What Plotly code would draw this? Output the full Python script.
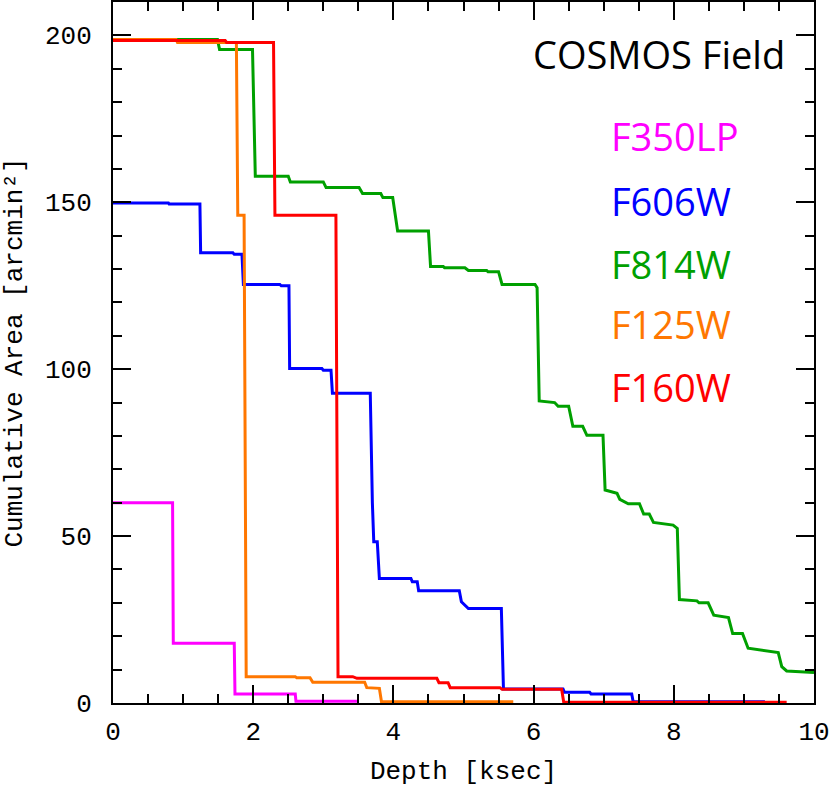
import plotly.graph_objects as go

# step curves (depth in ksec, cumulative area in arcmin^2)
f350lp_x = [0, 0.85, 0.86, 1.73, 1.74, 2.60, 2.61, 3.48]
f350lp_y = [60, 60, 17.9, 17.9, 2.7, 2.7, 0.5, 0.5]

f606w_x = [0, 0.79, 0.80, 1.24, 1.25, 1.71, 1.73, 1.84, 1.86, 2.38, 2.40, 2.51, 2.52,
           2.98, 3.00, 3.11, 3.13, 3.67, 3.70, 3.72, 3.77, 3.80, 4.25, 4.27, 4.34, 4.36,
           4.94, 4.97, 5.07, 5.54, 5.57, 6.42, 6.44, 6.80, 6.82, 7.40, 7.42, 9.3]
f606w_y = [149.8, 149.8, 149.5, 149.5, 134.9, 134.9, 134.4, 134.4, 125.4, 125.4, 125.0, 125.0, 100.2,
           100.2, 99.7, 99.7, 92.8, 92.8, 60, 48.3, 48.3, 37.3, 37.3, 36.3, 36.3, 33.6,
           33.6, 30.3, 28.3, 28.3, 4.2, 4.2, 3.2, 3.2, 2.7, 2.7, 0.4, 0.4]

f814w_x = [0, 1.49, 1.52, 1.99, 2.03, 2.50, 2.53, 3.00, 3.04, 3.51, 3.56, 3.82, 3.85, 3.99,
           4.06, 4.50, 4.53, 4.71, 4.73, 5.02, 5.07, 5.33, 5.35, 5.50, 5.55, 6.02, 6.05,
           6.08, 6.30, 6.35, 6.50, 6.56, 6.70, 6.76, 6.99, 7.02, 7.19, 7.23, 7.35, 7.51,
           7.57, 7.65, 7.71, 7.99, 8.05, 8.08, 8.33, 8.36, 8.49, 8.57, 8.78, 8.84, 8.98,
           9.06, 9.49, 9.54, 9.61, 10.0]
f814w_y = [198.8, 198.8, 195.8, 195.8, 157.8, 157.8, 156.1, 156.1, 154.4, 154.4, 152.6, 152.6, 151.4, 151.4,
           141.4, 141.4, 130.8, 130.8, 130.4, 130.4, 129.6, 129.6, 129.2, 129.2, 125.4, 125.4, 124.4,
           90.5, 90.0, 88.9, 88.9, 82.9, 82.9, 80.2, 80.2, 63.8, 62.8, 61.0, 59.7, 59.7,
           56.6, 56.6, 54.1, 53.3, 52.3, 31.0, 30.6, 30.0, 30.0, 26.3, 25.6, 20.8, 20.8,
           16.4, 15.1, 10.9, 9.6, 9.1]

f125w_x = [0, 0.90, 0.92, 1.76, 1.78, 1.87, 1.90, 2.60, 2.62, 2.81, 2.85, 3.59, 3.62, 3.80,
           3.83, 5.71]
f125w_y = [198.8, 198.8, 197.9, 197.9, 146.1, 146.1, 7.9, 7.9, 7.6, 7.6, 6.2, 6.2, 4.6, 4.4,
           0.4, 0.4]

f160w_x = [0, 1.60, 1.62, 2.29, 2.31, 3.18, 3.21, 3.42, 3.48, 4.62, 4.65, 4.78, 4.81,
           5.52, 5.55, 6.40, 6.43, 9.61]
f160w_y = [198.5, 198.5, 197.9, 197.9, 146.1, 146.1, 7.9, 7.9, 7.4, 7.4, 6.1, 6.1, 4.6,
           4.6, 4.1, 4.1, 0.2, 0.2]

filters = ["F350LP", "F606W", "F814W", "F125W", "F160W"]
colors = ["#ff00ff", "#0000ff", "#00a000", "#ff7700", "#ff0000"]
xs = [f350lp_x, f606w_x, f814w_x, f125w_x, f160w_x]
ys = [f350lp_y, f606w_y, f814w_y, f125w_y, f160w_y]
label_y = [169.8, 150.3, 131.4, 113.5, 94.6]

tick_font = dict(family="Liberation Mono", size=26, color="black")
label_font = "Open Sans"

fig = go.Figure()
for name, c, x, y in zip(filters, colors, xs, ys):
    fig.add_trace(go.Scatter(x=x, y=y, mode="lines", name=name,
                             line=dict(color=c, width=3), showlegend=False))

fig.add_annotation(x=9.61, y=194.4, xref="x", yref="y", text="COSMOS Field",
                   showarrow=False, xanchor="right", yanchor="middle",
                   font=dict(family=label_font, size=38, color="black"))
for name, c, ly in zip(filters, colors, label_y):
    fig.add_annotation(x=7.07, y=ly, xref="x", yref="y", text=name, showarrow=False,
                       xanchor="left", yanchor="middle",
                       font=dict(family=label_font, size=38, color=c))

axis_common = dict(showgrid=False, zeroline=False, showline=True, linecolor="black",
                   linewidth=2, mirror="allticks", ticks="inside", ticklen=18,
                   tickwidth=1.5, tickcolor="black", tickfont=tick_font,
                   automargin=False)

fig.update_xaxes(range=[0, 10], dtick=2, tick0=0, ticklabelstandoff=4,
                 minor=dict(dtick=0.5, ticks="inside", ticklen=9, tickcolor="black", tickwidth=1.5),
                 title=dict(text="Depth [ksec]", font=tick_font, standoff=14),
                 **axis_common)
fig.update_yaxes(range=[0, 210], dtick=50, tick0=0, ticklabelstandoff=14,
                 minor=dict(dtick=10, ticks="inside", ticklen=9, tickcolor="black", tickwidth=1.5),
                 title=dict(text="Cumulative Area [arcmin²]", font=tick_font, standoff=16),
                 **axis_common)

fig.update_layout(width=830, height=787, plot_bgcolor="white", paper_bgcolor="white",
                  margin=dict(l=113, r=16, t=2, b=84))

# drop the page's default body margin so the figure sits at the window's corner
fig.write_html("out.html", config={"displayModeBar": False},
               post_script="document.body.style.margin='0px';")
